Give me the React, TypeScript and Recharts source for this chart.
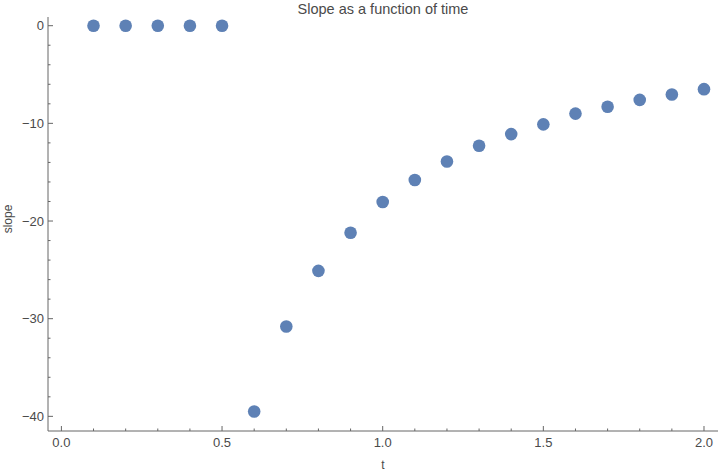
import { Scatter, ScatterChart, XAxis, YAxis } from 'recharts';

const tValues = [0.1, 0.2, 0.3, 0.4, 0.5, 0.6, 0.7, 0.8, 0.9, 1.0, 1.1, 1.2, 1.3, 1.4, 1.5, 1.6, 1.7, 1.8, 1.9, 2.0];
const slopeValues = [0, 0, 0, 0, 0, -39.5, -30.8, -25.1, -21.2, -18.05, -15.8, -13.9, -12.3, -11.1, -10.1, -9.0, -8.3, -7.6, -7.05, -6.5];

const xTicks = [0, 0.1, 0.2, 0.3, 0.4, 0.5, 0.6, 0.7, 0.8, 0.9, 1.0, 1.1, 1.2, 1.3, 1.4, 1.5, 1.6, 1.7, 1.8, 1.9, 2.0];
const xMajor = [0, 0.5, 1.0, 1.5, 2.0];
const yTicks = [0, -2, -4, -6, -8, -10, -12, -14, -16, -18, -20, -22, -24, -26, -28, -30, -32, -34, -36, -38, -40];
const yMajor = [0, -10, -20, -30, -40];

const data = tValues.map((t, i) => ({ t, slope: slopeValues[i] }));

const FRAME = '#666666';
const LABEL = '#4a4a4a';
const FONT = 'Arial, "Liberation Sans", sans-serif';

const isMajor = (list: number[], v: number) => list.some((m) => Math.abs(m - v) < 1e-6);
const fmtY = (v: number) => (v < 0 ? `\u2212${Math.abs(v)}` : String(v));

// side: où est l'axe ; on dessine les graduations vers l'intérieur
function makeTick(side: 'bottom' | 'top' | 'left' | 'right') {
  return (props: any) => {
    const { x, y, payload } = props;
    const v = payload.value as number;
    const major = side === 'bottom' || side === 'top' ? isMajor(xMajor, v) : isMajor(yMajor, v);
    const len = major ? 5 : 2.5;
    if (side === 'bottom') {
      return (
        <g>
          <line x1={x} y1={y} x2={x} y2={y - len} stroke={FRAME} strokeWidth={1} />
          {major && (
            <text x={x} y={y + 16} textAnchor="middle" fontSize={13} fill={LABEL} fontFamily={FONT}>
              {v.toFixed(1)}
            </text>
          )}
        </g>
      );
    }
    if (side === 'top') {
      return <line x1={x} y1={y} x2={x} y2={y + len} stroke={FRAME} strokeWidth={1} />;
    }
    if (side === 'left') {
      return (
        <g>
          <line x1={x} y1={y} x2={x + len} y2={y} stroke={FRAME} strokeWidth={1} />
          {major && (
            <text x={x - 4} y={y + 4.5} textAnchor="end" fontSize={13} fill={LABEL} fontFamily={FONT}>
              {fmtY(v)}
            </text>
          )}
        </g>
      );
    }
    return <line x1={x} y1={y} x2={x - len} y2={y} stroke={FRAME} strokeWidth={1} />;
  };
}

const Dot = (props: any) => <circle cx={props.cx} cy={props.cy} r={6.3} fill="#5E81B5" />;

export default function App() {
  const xDomain: [number, number] = [-0.0417, 2.0436];
  const yDomain: [number, number] = [-41.5, 0.89];
  return (
    <div style={{ position: 'absolute', left: 0, top: 0, width: 720, height: 473, background: '#fff' }}>
      <ScatterChart width={720} height={473} margin={{ top: 17, right: 2, bottom: 12, left: 8 }}>
        <text x={383} y={14} textAnchor="middle" fontSize={14.5} fill={LABEL} fontFamily={FONT}>
          Slope as a function of time
        </text>
        <text
          x={12}
          y={219}
          textAnchor="middle"
          fontSize={12}
          fill={LABEL}
          fontFamily={FONT}
          transform="rotate(-90 12 219)"
        >
          slope
        </text>
        <text x={383} y={469} textAnchor="middle" fontSize={12} fill={LABEL} fontFamily={FONT}>
          t
        </text>
        <XAxis
          xAxisId="b"
          dataKey="t"
          type="number"
          domain={xDomain}
          allowDataOverflow
          ticks={xTicks}
          interval={0}
          height={30}
          tickSize={0}
          tickMargin={0}
          tickLine={false}
          axisLine={{ stroke: FRAME }}
          tick={makeTick('bottom')}
        />
        <XAxis
          xAxisId="t"
          orientation="top"
          type="number"
          domain={xDomain}
          allowDataOverflow
          ticks={xTicks}
          interval={0}
          height={0}
          tickSize={0}
          tickMargin={0}
          tickLine={false}
          axisLine={{ stroke: FRAME }}
          tick={makeTick('top')}
        />
        <YAxis
          yAxisId="l"
          dataKey="slope"
          type="number"
          domain={yDomain}
          allowDataOverflow
          ticks={yTicks}
          interval={0}
          width={40}
          tickSize={0}
          tickMargin={0}
          tickLine={false}
          axisLine={{ stroke: FRAME }}
          tick={makeTick('left')}
        />
        <YAxis
          yAxisId="r"
          orientation="right"
          type="number"
          domain={yDomain}
          allowDataOverflow
          ticks={yTicks}
          interval={0}
          width={0}
          tickSize={0}
          tickMargin={0}
          tickLine={false}
          axisLine={{ stroke: FRAME }}
          tick={makeTick('right')}
        />
        <Scatter
          xAxisId="b"
          yAxisId="l"
          data={data}
          shape={<Dot />}
          isAnimationActive={false}
        />
      </ScatterChart>
    </div>
  );
}
